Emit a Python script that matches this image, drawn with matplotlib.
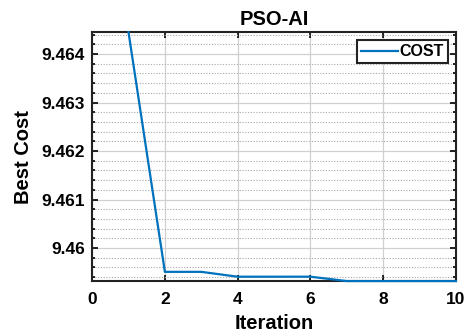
import numpy as np
import matplotlib
matplotlib.use("Agg")
import matplotlib.pyplot as plt
from matplotlib.ticker import MultipleLocator

# values
iterations = [1, 2, 3, 4, 5, 6, 7, 8, 9, 10]
best_cost = [9.46445, 9.45951, 9.45951, 9.45941, 9.45941, 9.45941,
             9.45932, 9.45932, 9.45932, 9.45932]
y_ticks = [9.460, 9.461, 9.462, 9.463, 9.464]
y_tick_labels = ["9.46", "9.461", "9.462", "9.463", "9.464"]
x_ticks = [0, 2, 4, 6, 8, 10]

plt.rcParams["font.family"] = ["Liberation Sans", "DejaVu Sans"]
plt.rcParams["font.weight"] = "bold"

fig = plt.figure(figsize=(4.7, 3.35), dpi=100)
ax = fig.add_axes([0.196, 0.161, 0.774, 0.743])

ax.plot(iterations, best_cost, color="#0072BD", linewidth=1.6, label="COST",
        zorder=3, clip_on=False)

ax.set_xlim(0, 10)
ax.set_ylim(min(best_cost), max(best_cost))
ax.set_xticks(x_ticks)
ax.set_yticks(y_ticks)
ax.set_yticklabels(y_tick_labels)
ax.yaxis.set_minor_locator(MultipleLocator(0.0002))

ax.grid(True, which="major", color="#d0d0d0", linewidth=0.9, linestyle="-")
ax.grid(True, which="minor", axis="y", color="#a8a8a8", linewidth=0.8, linestyle=(0, (1, 1.5)))
ax.set_axisbelow(True)

ax.tick_params(which="both", direction="in", top=True, right=True, labelsize=12.5, width=1.2)
ax.tick_params(which="major", length=4)
ax.tick_params(which="minor", length=2.5)
ax.tick_params(axis="x", which="major", pad=8)
ax.tick_params(axis="y", which="major", pad=5)
for sp in ax.spines.values():
    sp.set_linewidth(1.5)
    sp.set_color("#222222")

ax.set_title("PSO-AI", fontsize=14.5, fontweight="bold", pad=5)
ax.set_xlabel("Iteration", fontsize=14.5, fontweight="bold", labelpad=5)
ax.set_ylabel("Best Cost", fontsize=14.5, fontweight="bold", labelpad=6)

leg = ax.legend(loc="upper right", fontsize=11.5, fancybox=False, framealpha=1,
                handlelength=2.3, borderpad=0.25, handletextpad=0.1,
                borderaxespad=0.5)
leg.get_frame().set_edgecolor("#222222")
leg.get_frame().set_linewidth(1.5)
leg.set_zorder(5)

fig.savefig("out.png", dpi=100)
